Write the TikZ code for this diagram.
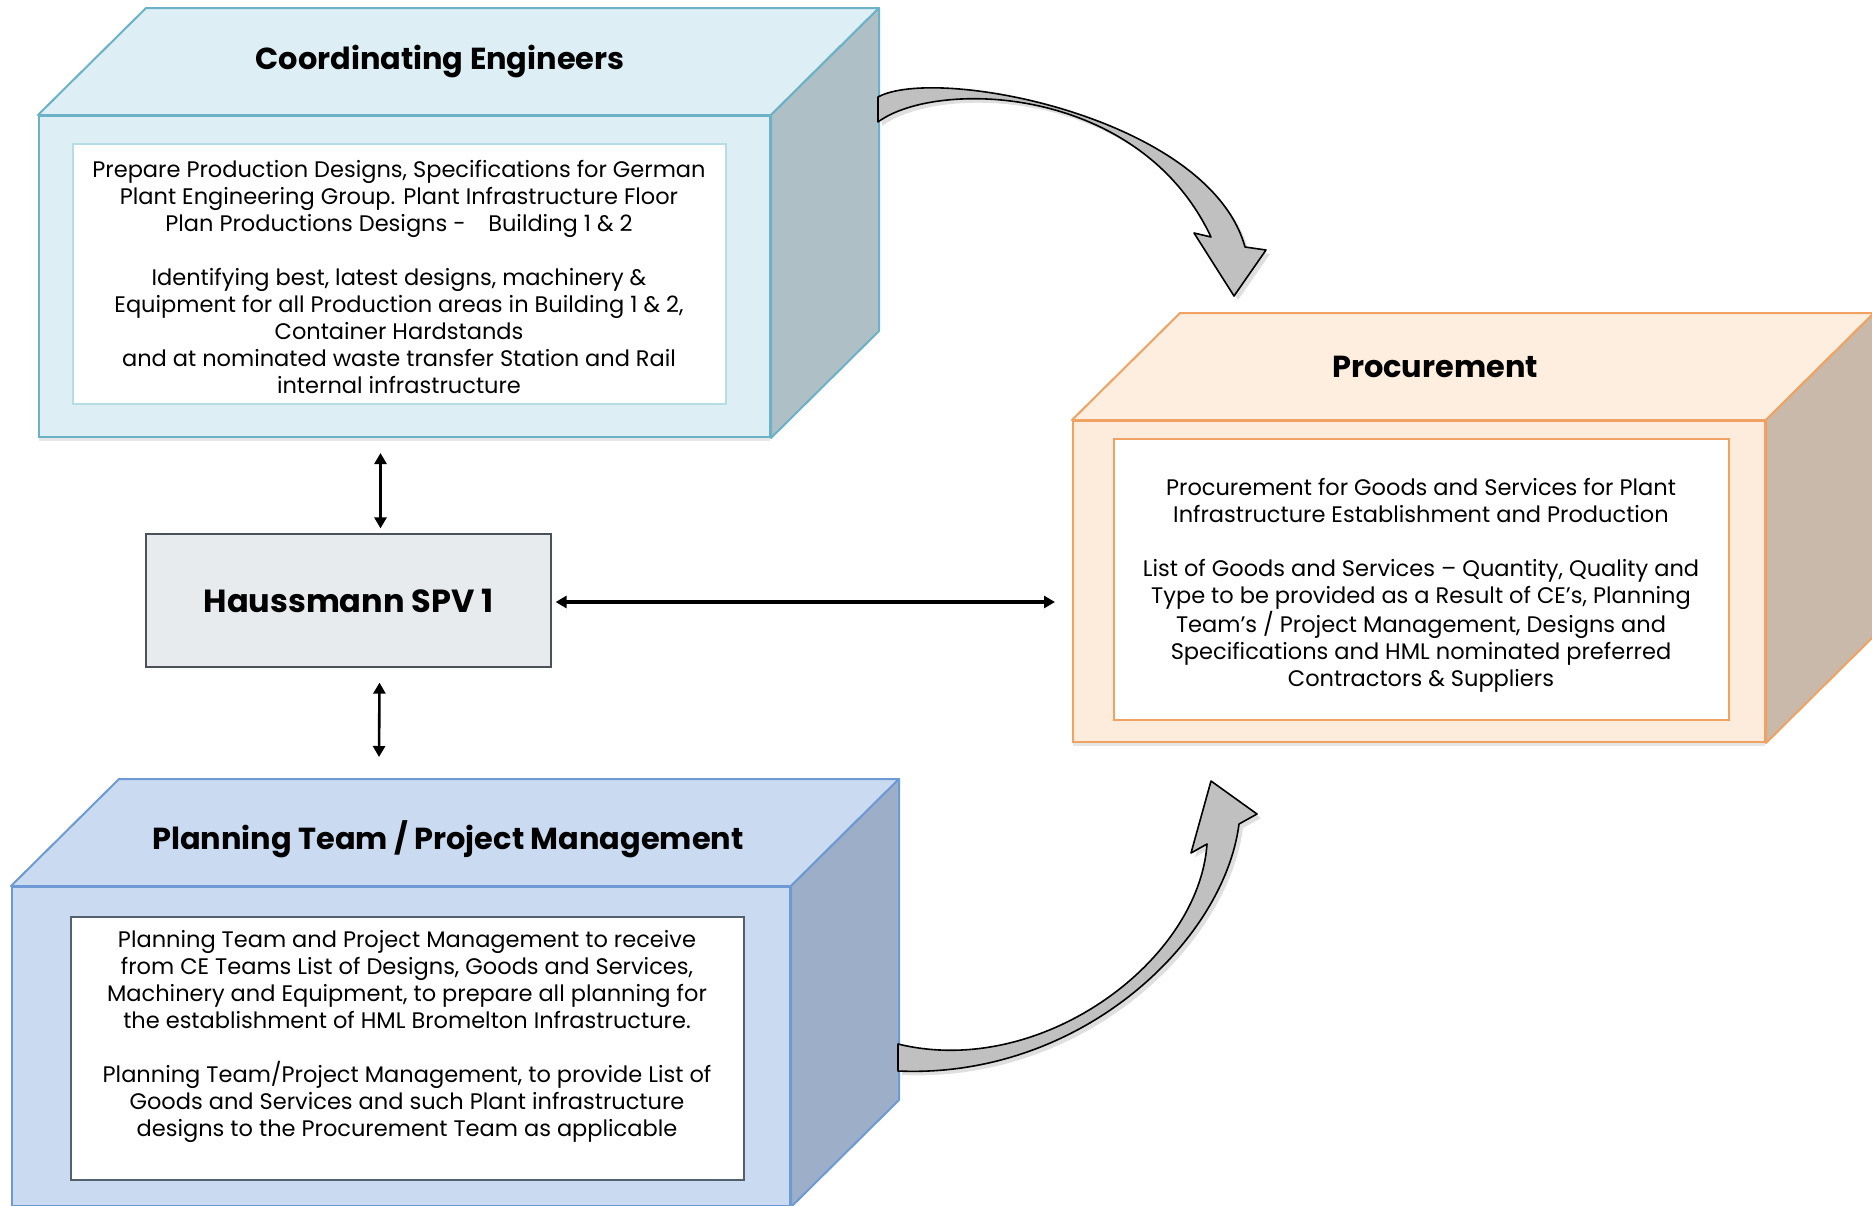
\documentclass[tikz,border=0pt]{standalone}
\usepackage{fontspec}
\setmainfont{Poppins}
\usetikzlibrary{arrows.meta,calc,shadows}

\definecolor{ceFill}{HTML}{DDEEF4}
\definecolor{ceSide}{HTML}{AFBFC6}
\definecolor{ceLine}{HTML}{6BB2C9}
\definecolor{ceInner}{HTML}{B6DCE6}
\definecolor{prFill}{HTML}{FDEBDC}
\definecolor{prTop}{HTML}{FDEEDF}
\definecolor{prSide}{HTML}{C8B9AB}
\definecolor{prLine}{HTML}{F0A262}
\definecolor{plFill}{HTML}{CADBF1}
\definecolor{plSide}{HTML}{9DAFC8}
\definecolor{plLine}{HTML}{6D9AD4}
\definecolor{plInner}{HTML}{55606E}
\definecolor{hmFill}{HTML}{E8EBEE}
\definecolor{hmLine}{HTML}{4B5158}
\definecolor{bendFill}{HTML}{C0C0C0}

\newcommand{\bodyfont}{\fontsize{11.25}{13.5}\selectfont}
\newcommand{\titlefont}{\fontsize{15.2}{18}\selectfont\bfseries}

% top and side faces of a box, drawn onto its front node
\newcommand{\cubefaces}[4]{%
  \draw[#4, line width=1pt, fill=#2, line join=round]
    (#1.north west) -- ++(108,-107) -- ($(#1.north east)+(108,-107)$) -- (#1.north east) -- cycle;
  \draw[#4, line width=1pt, fill=#3, line join=round]
    (#1.north east) -- ++(108,-107) -- ($(#1.south east)+(108,-107)$) -- (#1.south east) -- cycle;
}

\begin{document}
\begin{tikzpicture}[
  x=0.5pt, y=-0.5pt,
  front/.style={line width=1pt, inner sep=0pt, drop shadow={opacity=0.2, shadow xshift=0pt, shadow yshift=-2pt}},
  innerbox/.style={fill=white, line width=0.75pt, inner sep=0pt},
  bodytext/.style={align=center, font=\bodyfont, inner sep=0pt},
  titletext/.style={font=\titlefont},
  hmbox/.style={draw=hmLine, fill=hmFill, line width=0.6pt, minimum width=202.5pt, minimum height=66.5pt, font=\fontsize{16}{19}\selectfont\bfseries},
  dbl/.style={{Triangle[length=5.5pt,width=6pt]}-{Triangle[length=5.5pt,width=6pt]}, line width=1.3pt, draw=black},
  bendarrow/.style={fill=bendFill, draw=black, line width=0.8pt, line join=round, drop shadow={opacity=0.25, shadow xshift=2pt, shadow yshift=-2pt}}
]
\clip (0,0) rectangle (1872,1205);

% ========== Coordinating Engineers ==========
\node[front, fill=ceFill, draw=ceLine, minimum width=365.5pt, minimum height=160.5pt] (ce) at (404.5,276.5) {};
\cubefaces{ce}{ceFill}{ceSide}{ceLine}
\node[titletext] (ce-title) at (440,62) {Coordinating Engineers};
\node[innerbox, draw=ceInner, minimum width=326.5pt, minimum height=130pt] (ce-box) at (399.5,274) {};
\node[bodytext] (ce-text) at (399,277) {%
Prepare Production Designs, Specifications for German\\
Plant Engineering Group. Plant Infrastructure Floor\\
Plan Productions Designs -\quad Building 1 \& 2\\[13.5pt]
Identifying best, latest designs, machinery \&\\
Equipment for all Production areas in Building 1 \& 2,\\
Container Hardstands\\
and at nominated waste transfer Station and Rail\\
internal infrastructure};

% ========== Procurement ==========
\node[front, fill=prFill, draw=prLine, minimum width=346pt, minimum height=160.5pt] (pr) at (1419,581.5) {};
\cubefaces{pr}{prTop}{prSide}{prLine}
\node[titletext] (pr-title) at (1435,367) {Procurement};
\node[innerbox, draw=prLine, minimum width=307.5pt, minimum height=140.5pt] (pr-box) at (1421.5,579.5) {};
\node[bodytext] (pr-text) at (1421,585) {%
Procurement for Goods and Services for Plant\\
Infrastructure Establishment and Production\\[13.5pt]
List of Goods and Services -- Quantity, Quality and\\
Type to be provided as a Result of CE’s, Planning\\
Team’s / Project Management, Designs and\\
Specifications and HML nominated preferred\\
Contractors \& Suppliers};

% ========== Planning Team / Project Management ==========
\node[front, fill=plFill, draw=plLine, minimum width=389pt, minimum height=159.5pt] (pl) at (401,1046.5) {};
\cubefaces{pl}{plFill}{plSide}{plLine}
\node[titletext] (pl-title) at (448,839) {Planning Team / Project Management};
\node[innerbox, draw=plInner, minimum width=336.5pt, minimum height=131.5pt] (pl-box) at (407.5,1048.5) {};
\node[bodytext] (pl-text) at (407,1036) {%
Planning Team and Project Management to receive\\
from CE Teams List of Designs, Goods and Services,\\
Machinery and Equipment, to prepare all planning for\\
the establishment of HML Bromelton Infrastructure.\\[13.5pt]
Planning Team/Project Management, to provide List of\\
Goods and Services and such Plant infrastructure\\
designs to the Procurement Team as applicable};

% ========== Haussmann SPV 1 ==========
\node[hmbox] (hm) at (348.5,600.5) {Haussmann SPV 1};

% ===== Double arrows =====
\draw[dbl] ($(hm.north)+(32,-5)$) -- ($(ce.south)+(-24,15)$);
\draw[dbl] ($(hm.south)+(31,15)$) -- ($(pl.north)+(-22,-129)$);
\draw[dbl, line width=2pt] ($(hm.east)+(4,1.5)$) -- ($(pr.west)+(-17,20.5)$);

% ===== Bent block arrows =====
\coordinate (ce-out-a) at ($(ce.north east)+(107,-18)$);
\coordinate (ce-out-b) at ($(ce.north east)+(107,7)$);
\coordinate (pr-tip-a) at ($(pr.north west)+(162,-124)$);
\draw[bendarrow] (ce-out-a) .. controls +(58,-32) and +(-36,-130) .. ($(pr-tip-a)+(11,-49)$)
  -- ++(21,3) -- (pr-tip-a) -- ++(-40,-63) -- ++(17,4)
  .. controls +(-72,-153) and +(58,-43) .. (ce-out-b) -- cycle;

\coordinate (pl-out-a) at ($(pl.north east)+(107,185)$);
\coordinate (pl-out-b) at ($(pl.north east)+(107,158)$);
\coordinate (pr-tip-b) at ($(pr.south west)+(139,38)$);
\draw[bendarrow] (pl-out-a) .. controls +(183,8) and +(-15,117) .. ($(pr-tip-b)+(28,43)$)
  -- ++(18,-10) -- (pr-tip-b) -- ++(-20,72) -- ++(16,-9)
  .. controls +(-8,117) and +(143,35) .. (pl-out-b) -- cycle;

\end{tikzpicture}
\end{document}
